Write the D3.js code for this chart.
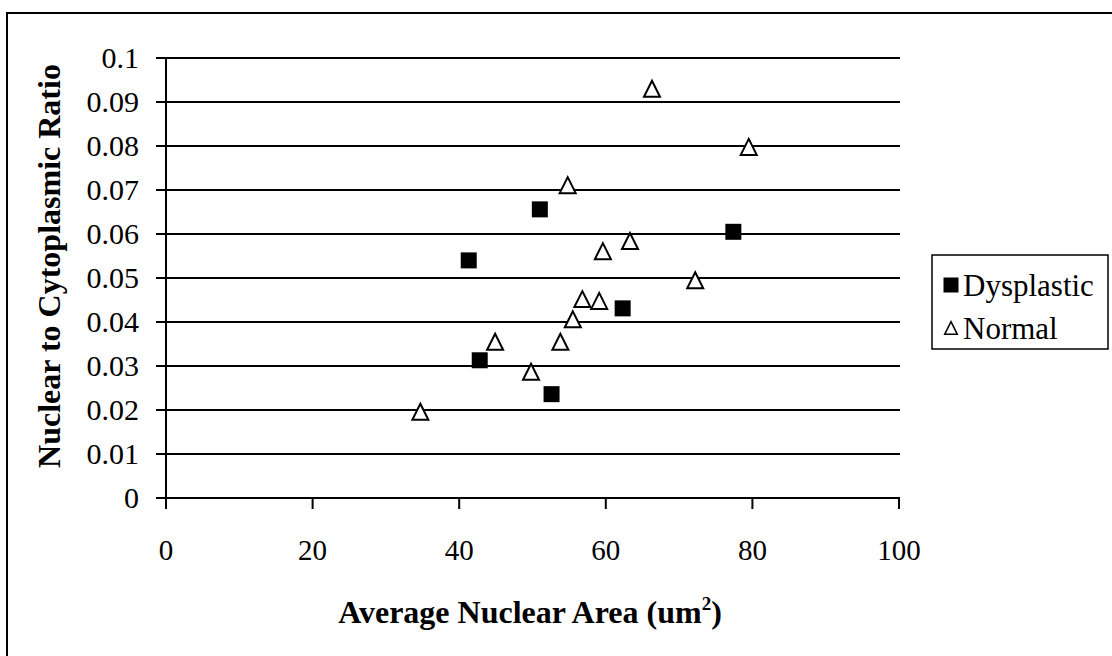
<!DOCTYPE html>
<html>
<head>
<meta charset="utf-8">
<script src="https://cdn.jsdelivr.net/npm/d3@7"></script>
<style>
  html, body { margin: 0; padding: 0; background: #fff; }
  svg { display: block; font-family: "Liberation Serif", "Times New Roman", serif; }
</style>
</head>
<body>
<svg id="chart" width="1112" height="656"></svg>
<script>
// data
const dysplasticArea  = [51.0, 77.4, 41.3, 62.3, 42.8, 52.6]
const dysplasticRatio = [0.0656, 0.0605, 0.0540, 0.0431, 0.0313, 0.0236]

const normalArea  = [66.3, 79.5, 54.8, 63.3, 59.6, 72.2, 56.8, 59.1, 55.5, 44.9, 53.8, 49.8, 34.7]
const normalRatio = [0.0930, 0.0798, 0.0711, 0.0584, 0.0561, 0.0495, 0.0452, 0.0448, 0.0406, 0.0355, 0.0355, 0.0287, 0.0196]

const xTicks = [0, 20, 40, 60, 80, 100]
const yTicks = [0, 0.01, 0.02, 0.03, 0.04, 0.05, 0.06, 0.07, 0.08, 0.09, 0.1]
const yTickLabels = ['0', '0.01', '0.02', '0.03', '0.04', '0.05', '0.06', '0.07', '0.08', '0.09', '0.1']

const seriesNames = ['Dysplastic', 'Normal']

// layout
const PLOT = { left: 166, right: 899, top: 58, bottom: 498 }

const svg = d3.select('#chart')

const x = d3.scaleLinear().domain([0, 100]).range([PLOT.left, PLOT.right])
const y = d3.scaleLinear().domain([0, 0.1]).range([PLOT.bottom, PLOT.top])

// triangle as wide as it is tall (the scanned markers are not equilateral)
const tallTriangle = {
  draw(ctx, size) {
    let h = Math.sqrt(size) / 2
    ctx.moveTo(0, -h)
    ctx.lineTo(h, h)
    ctx.lineTo(-h, h)
    ctx.closePath()
  }
}

// outer frame (only top and left edges are inside the picture)
svg.append('path')
  .attr('d', 'M7,660V13H1120')
  .attr('fill', 'none')
  .attr('stroke', '#000')
  .attr('stroke-width', 2)

// horizontal gridlines + y ticks
svg.append('g')
  .selectAll('line')
  .data(yTicks)
  .join('line')
    .attr('x1', PLOT.left - 10)
    .attr('x2', PLOT.right + 1)
    .attr('y1', d => y(d))
    .attr('y2', d => y(d))
    .attr('stroke', '#000')
    .attr('stroke-width', 2)

// y axis line
svg.append('line')
  .attr('x1', PLOT.left).attr('x2', PLOT.left)
  .attr('y1', PLOT.top).attr('y2', PLOT.bottom)
  .attr('stroke', '#000').attr('stroke-width', 2)

// x ticks
svg.append('g')
  .selectAll('line')
  .data(xTicks)
  .join('line')
    .attr('x1', d => x(d)).attr('x2', d => x(d))
    .attr('y1', PLOT.bottom).attr('y2', PLOT.bottom + 11)
    .attr('stroke', '#000').attr('stroke-width', 2)

// y tick labels
svg.append('g')
  .attr('font-size', 30)
  .attr('text-anchor', 'end')
  .selectAll('text')
  .data(yTicks)
  .join('text')
    .attr('x', PLOT.left - 27)
    .attr('y', d => y(d))
    .attr('dy', '0.34em')
    .text((d, i) => yTickLabels[i])

// x tick labels
svg.append('g')
  .attr('font-size', 29)
  .attr('text-anchor', 'middle')
  .selectAll('text')
  .data(xTicks)
  .join('text')
    .attr('x', d => x(d))
    .attr('y', 560)
    .text(d => d)

// axis titles
const xTitle = svg.append('text')
  .attr('x', 530).attr('y', 623)
  .attr('text-anchor', 'middle')
  .attr('font-size', 32)
  .attr('font-weight', 'bold')
xTitle.append('tspan').text('Average Nuclear Area (um')
xTitle.append('tspan').attr('font-size', 19).attr('dy', -13).text('2')
xTitle.append('tspan').attr('dy', 13).text(')')

svg.append('text')
  .attr('transform', 'translate(60,266) rotate(-90)')
  .attr('text-anchor', 'middle')
  .attr('font-size', 32)
  .attr('font-weight', 'bold')
  .text('Nuclear to Cytoplasmic Ratio')

// markers
const square = d3.symbol(d3.symbolSquare, 256)
const triangle = d3.symbol(tallTriangle, 256)

svg.append('g')
  .selectAll('path')
  .data(d3.zip(dysplasticArea, dysplasticRatio))
  .join('path')
    .attr('transform', d => 'translate(' + x(d[0]) + ',' + y(d[1]) + ')')
    .attr('d', square)
    .attr('fill', '#000')

svg.append('g')
  .selectAll('path')
  .data(d3.zip(normalArea, normalRatio))
  .join('path')
    .attr('transform', d => 'translate(' + x(d[0]) + ',' + y(d[1]) + ')')
    .attr('d', triangle)
    .attr('fill', '#fff')
    .attr('stroke', '#000')
    .attr('stroke-width', 2)

// legend
const legend = svg.append('g')
legend.append('rect')
  .attr('x', 932).attr('y', 255)
  .attr('width', 176).attr('height', 94)
  .attr('fill', '#fff')
  .attr('stroke', '#000')
  .attr('stroke-width', 1.5)

const legendRows = legend.selectAll('g')
  .data(seriesNames)
  .join('g')
    .attr('transform', (d, i) => 'translate(951,' + (285 + i * 43) + ')')

legendRows.append('path')
  .attr('d', (d, i) => i === 0 ? d3.symbol(d3.symbolSquare, 225)() : d3.symbol(tallTriangle, 160)())
  .attr('fill', (d, i) => i === 0 ? '#000' : '#fff')
  .attr('stroke', (d, i) => i === 0 ? 'none' : '#000')
  .attr('stroke-width', 1.5)

legendRows.append('text')
  .attr('x', 12)
  .attr('dy', '0.34em')
  .attr('font-size', 31)
  .text(d => d)
</script>
</body>
</html>
